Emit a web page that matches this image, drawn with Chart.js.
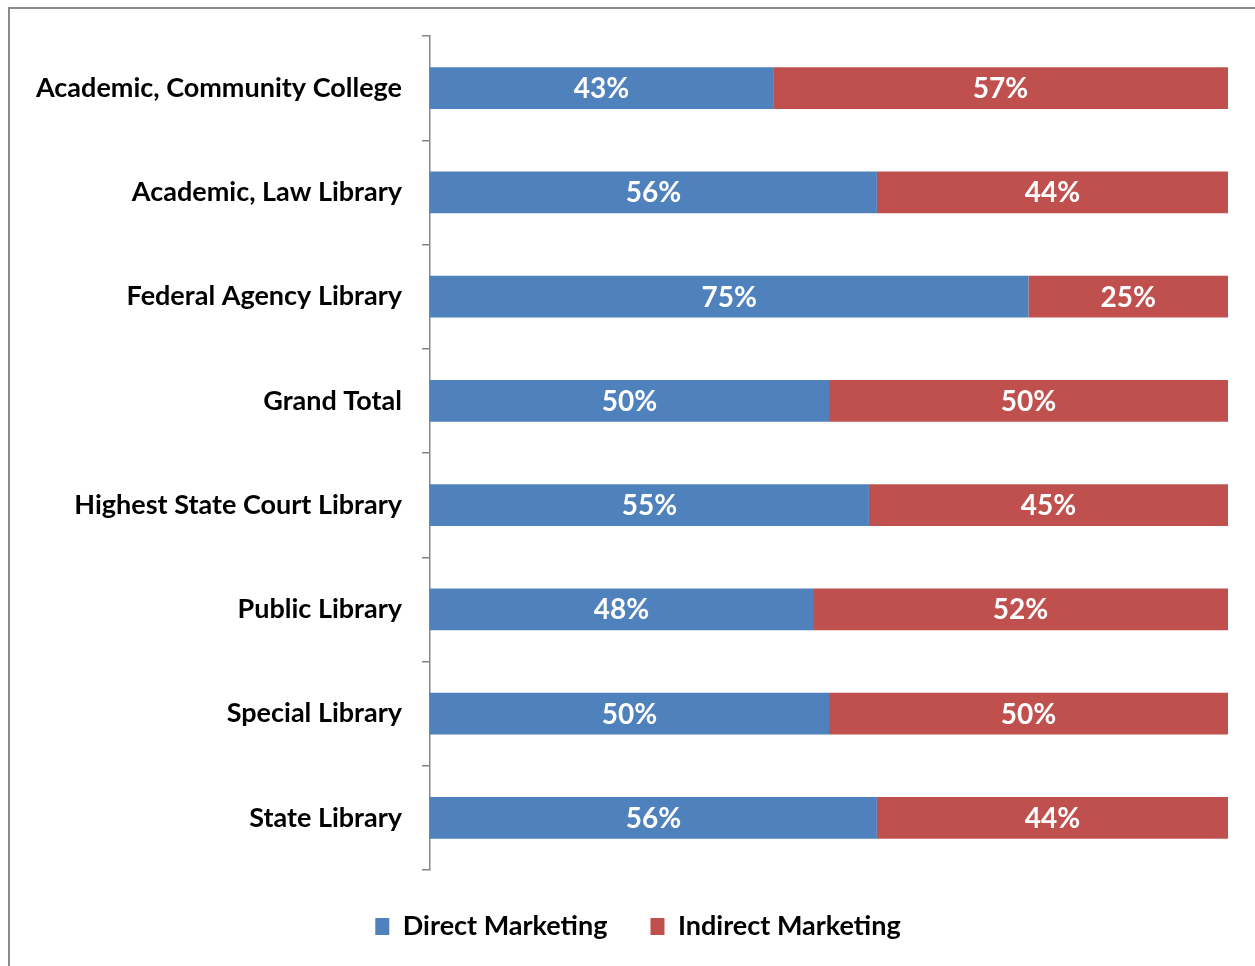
<!DOCTYPE html>
<html>
<head>
<meta charset="utf-8">
<script src="https://cdn.jsdelivr.net/npm/chart.js@4/dist/chart.umd.min.js"></script>
<style>
  html, body { margin: 0; padding: 0; background: #fff; overflow: hidden; }
  .cadre {
    position: absolute;
    left: 8px;
    top: 7px;
    width: 1256px;
    height: 990px;
    border: 2px solid #8a8a8a;
  }
  .cadre canvas { display: block; }
</style>
</head>
<body>
<div class="cadre">
  <canvas id="marketingChart" width="1256" height="941"></canvas>
</div>
<script>
const libraryTypes = [
  "Academic, Community College",
  "Academic, Law Library",
  "Federal Agency Library",
  "Grand Total",
  "Highest State Court Library",
  "Public Library",
  "Special Library",
  "State Library",
];
const directMarketing = [43, 56, 75, 50, 55, 48, 50, 56];
const indirectMarketing = [57, 44, 25, 50, 45, 52, 50, 44];

const fontFamily = "Lato, 'Open Sans', sans-serif";

// white percentage written in the middle of each segment
const labelsInBars = {
  id: "labelsInBars",
  afterDatasetsDraw(chart) {
    const ctx = chart.ctx;
    ctx.save();
    ctx.fillStyle = "#ffffff";
    ctx.font = `bold 28px ${fontFamily}`;
    ctx.textAlign = "center";
    ctx.textBaseline = "middle";
    chart.data.datasets.forEach((ds, i) => {
      const meta = chart.getDatasetMeta(i);
      meta.data.forEach((bar, j) => {
        const cx = (bar.x + bar.base) / 2;
        ctx.fillText(ds.data[j] + "%", cx, bar.y + 1);
      });
    });
    ctx.restore();
  },
};

// legend sits centred on the whole frame, not only on the drawing area
const legendShift = {
  id: "legendShift",
  beforeDraw(chart) {
    const lg = chart.legend;
    if (lg && !lg._shifted) {
      lg.left += 19;
      lg.right += 19;
      lg._shifted = true;
    }
  },
};

const ctx = document.getElementById("marketingChart").getContext("2d");
new Chart(ctx, {
  type: "bar",
  data: {
    labels: libraryTypes,
    datasets: [
      {
        label: "Direct Marketing",
        data: directMarketing,
        backgroundColor: "#4f81bd",
        categoryPercentage: 1,
        barPercentage: 0.4,
      },
      {
        label: "Indirect Marketing",
        data: indirectMarketing,
        backgroundColor: "#c0504d",
        categoryPercentage: 1,
        barPercentage: 0.4,
      },
    ],
  },
  options: {
    indexAxis: "y",
    responsive: false,
    animation: false,
    layout: {
      padding: { top: 27, right: 38, bottom: 0, left: 0 },
    },
    plugins: {
      legend: {
        position: "bottom",
        labels: {
          boxWidth: 14,
          boxHeight: 17,
          padding: 43,
          color: "#000",
          font: { family: fontFamily, size: 27, weight: "bold" },
        },
      },
      tooltip: { enabled: false },
    },
    scales: {
      x: {
        display: false,
        stacked: true,
        min: 0,
        max: 100,
      },
      y: {
        stacked: true,
        afterFit(scale) {
          scale.width = 420;
          scale.paddingTop = 0;
          scale.paddingBottom = 0;
        },
        border: { display: true, color: "#868686", width: 1.5 },
        grid: {
          offset: true,
          drawOnChartArea: false,
          drawTicks: true,
          tickLength: 8,
          color: "#868686",
          lineWidth: 1.5,
        },
        ticks: {
          color: "#000",
          padding: 20,
          font: { family: fontFamily, size: 27, weight: "bold" },
        },
      },
    },
  },
  plugins: [labelsInBars, legendShift],
});
</script>
</body>
</html>
